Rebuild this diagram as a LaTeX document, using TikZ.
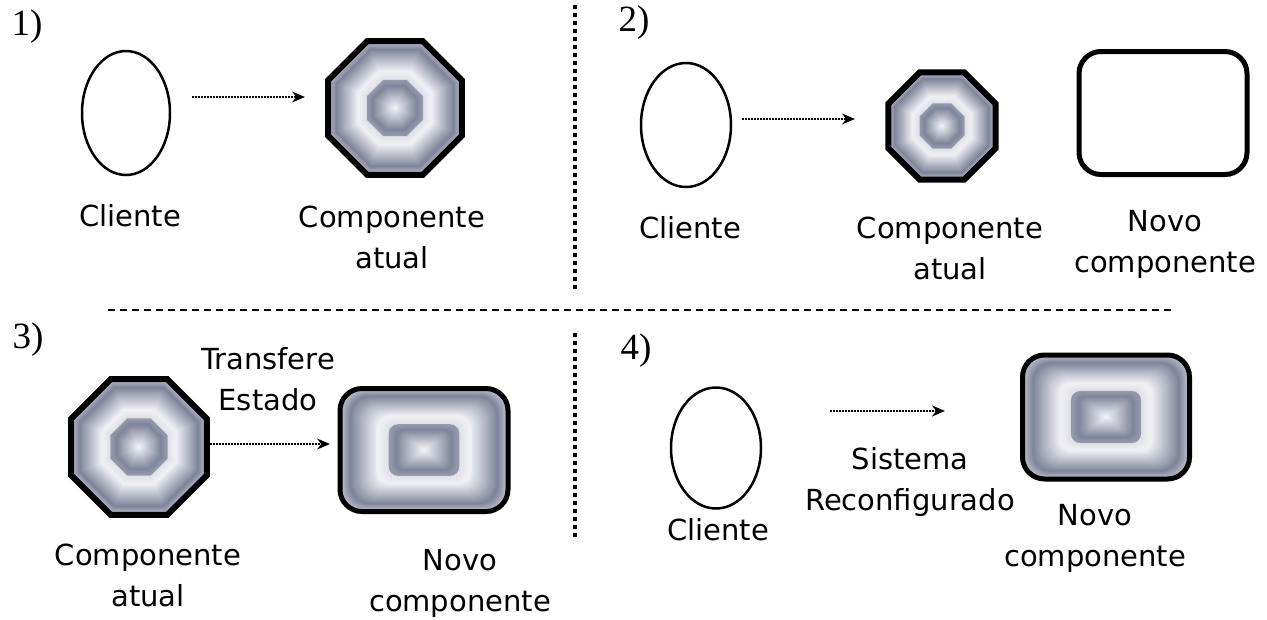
\documentclass[tikz,border=0pt]{standalone}
\usepackage{fontspec}
\setmainfont{DejaVu Sans}
\newfontfamily\numfont{Liberation Serif}
\usetikzlibrary{shapes.geometric,arrows.meta}
\definecolor{sdark}{RGB}{126,132,154}
\definecolor{slight}{RGB}{247,247,250}

\begin{document}
\begin{tikzpicture}
[x=1pt,y=-1pt,
lbl/.style={font=\fontsize{29}{41}\selectfont,align=center,inner sep=0pt},
num/.style={font=\numfont\fontsize{37}{40}\selectfont,inner sep=0pt},
cli/.style={ellipse,draw=black,line width=2.5pt,inner sep=0pt,minimum width=88pt,minimum height=124pt},
octo/.style={regular polygon,regular polygon sides=8,inner sep=0pt,outer sep=0pt},
octb/.style={octo,draw=black,line width=6pt},
rbox/.style={rectangle,inner sep=0pt,outer sep=0pt},
rboxb/.style={rbox,draw=black,line width=5pt,rounded corners=22pt,minimum width=168pt,minimum height=123pt},
flow/.style={line width=1.5pt,dash pattern=on 1.5pt off 1.5pt,-{Stealth[length=13pt,width=11pt]}},
vsep/.style={line width=4.5pt,dash pattern=on 4pt off 4pt},
hsep/.style={line width=1.5pt,dash pattern=on 7pt off 5pt}]
\useasboundingbox (0,0) rectangle (1267,619);
%%%%% SEPARATORS
\draw[vsep] (575,5) -- (575,290);
\draw[vsep] (575,333) -- (575,540);
\draw[hsep] (108,310) -- (1172,310);
%%%%% PANEL 1
\node[num] (n1) at (27,27) {1)};
\node[cli] (cliente1) at (126,113) {};
\coordinate (c1) at (395,108);
\foreach \k in {100,99,...,1}
{
	\pgfmathsetmacro\fr{\k/100}
	\pgfmathtruncatemacro\pc{\fr>0.88 ? 100-(\fr-0.88)*458 : (\fr>0.55 ? 5+(\fr-0.55)*288 : (\fr>0.42 ? 5+(0.55-\fr)*115 : (\fr>0.33 ? 100-(\fr-0.33)*222 : \fr*303)))}
	\node[octo,fill=sdark!\pc!slight,minimum size=\fr*145pt] at (c1) {};
};
\node[octb,minimum size=145pt] (atual1) at (c1) {};
\coordinate (a1s) at (192,97);
\coordinate (a1e) at (305,97);
\draw[flow] (a1s) -- (a1e);
\node[lbl] (tcliente1) at (130,216) {Cliente};
\node[lbl] (tatual1) at (392,237) {Componente\\atual};
%%%%% PANEL 2
\node[num] (n2) at (634,23) {2)};
\node[cli,minimum width=90pt] (cliente2) at (686,125) {};
\coordinate (c2) at (942,126);
\foreach \k in {100,99,...,1}
{
	\pgfmathsetmacro\fr{\k/100}
	\pgfmathtruncatemacro\pc{\fr>0.88 ? 100-(\fr-0.88)*458 : (\fr>0.55 ? 5+(\fr-0.55)*288 : (\fr>0.42 ? 5+(0.55-\fr)*115 : (\fr>0.33 ? 100-(\fr-0.33)*222 : \fr*303)))}
	\node[octo,fill=sdark!\pc!slight,minimum size=\fr*116pt] at (c2) {};
};
\node[octb,minimum size=116pt] (atual2) at (c2) {};
\node[rboxb] (novo2) at (1163,113) {};
\coordinate (a2s) at (742,119);
\coordinate (a2e) at (855,119);
\draw[flow] (a2s) -- (a2e);
\node[lbl] (tcliente2) at (690,228) {Cliente};
\node[lbl] (tatual2) at (950,248) {Componente\\atual};
\node[lbl] (tnovo2) at (1165,244) {Novo\\componente};
%%%%% PANEL 3
\node[num] (n3) at (28,340) {3)};
\coordinate (c3) at (139,447);
\foreach \k in {100,99,...,1}
{
	\pgfmathsetmacro\fr{\k/100}
	\pgfmathtruncatemacro\pc{\fr>0.88 ? 100-(\fr-0.88)*458 : (\fr>0.55 ? 5+(\fr-0.55)*288 : (\fr>0.42 ? 5+(0.55-\fr)*115 : (\fr>0.33 ? 100-(\fr-0.33)*222 : \fr*303)))}
	\node[octo,fill=sdark!\pc!slight,minimum size=\fr*147pt] at (c3) {};
};
\node[octb,minimum size=147pt] (atual3) at (c3) {};
\coordinate (c3b) at (424,450);
\foreach \k in {100,99,...,1}
{
	\pgfmathsetmacro\fr{\k/100}
	\pgfmathsetmacro\rr{\fr*22}
	\pgfmathtruncatemacro\pc{\fr>0.88 ? 100-(\fr-0.88)*458 : (\fr>0.55 ? 5+(\fr-0.55)*288 : (\fr>0.42 ? 5+(0.55-\fr)*115 : (\fr>0.33 ? 100-(\fr-0.33)*222 : \fr*303)))}
	\node[rbox,fill=sdark!\pc!slight,rounded corners=\rr pt,minimum width=\fr*168pt,minimum height=\fr*123pt] at (c3b) {};
};
\node[rboxb] (novo3) at (c3b) {};
\coordinate (a3s) at (210,444);
\coordinate (a3e) at (330,444);
\draw[flow] (a3s) -- (a3e);
\node[lbl] (ttransf3) at (268,379) {Transfere\\Estado};
\node[lbl] (tatual3) at (148,575) {Componente\\atual};
\node[lbl] (tnovo3) at (460,583) {Novo\\componente};
%%%%% PANEL 4
\node[num] (n4) at (636,351) {4)};
\node[cli,minimum width=90pt,minimum height=121pt] (cliente4) at (716,448) {};
\coordinate (c4) at (1106,417);
\foreach \k in {100,99,...,1}
{
	\pgfmathsetmacro\fr{\k/100}
	\pgfmathsetmacro\rr{\fr*22}
	\pgfmathtruncatemacro\pc{\fr>0.88 ? 100-(\fr-0.88)*458 : (\fr>0.55 ? 5+(\fr-0.55)*288 : (\fr>0.42 ? 5+(0.55-\fr)*115 : (\fr>0.33 ? 100-(\fr-0.33)*222 : \fr*303)))}
	\node[rbox,fill=sdark!\pc!slight,rounded corners=\rr pt,minimum width=\fr*167pt,minimum height=\fr*124pt] at (c4) {};
};
\node[rboxb,minimum width=167pt,minimum height=124pt] (novo4) at (c4) {};
\coordinate (a4s) at (830,411);
\coordinate (a4e) at (945,411);
\draw[flow] (a4s) -- (a4e);
\node[lbl] (tcliente4) at (718,530) {Cliente};
\node[lbl] (tsist4) at (910,482) {Sistema\\Reconfigurado};
\node[lbl] (tnovo4) at (1095,538) {Novo\\componente};
\end{tikzpicture}
\end{document}
